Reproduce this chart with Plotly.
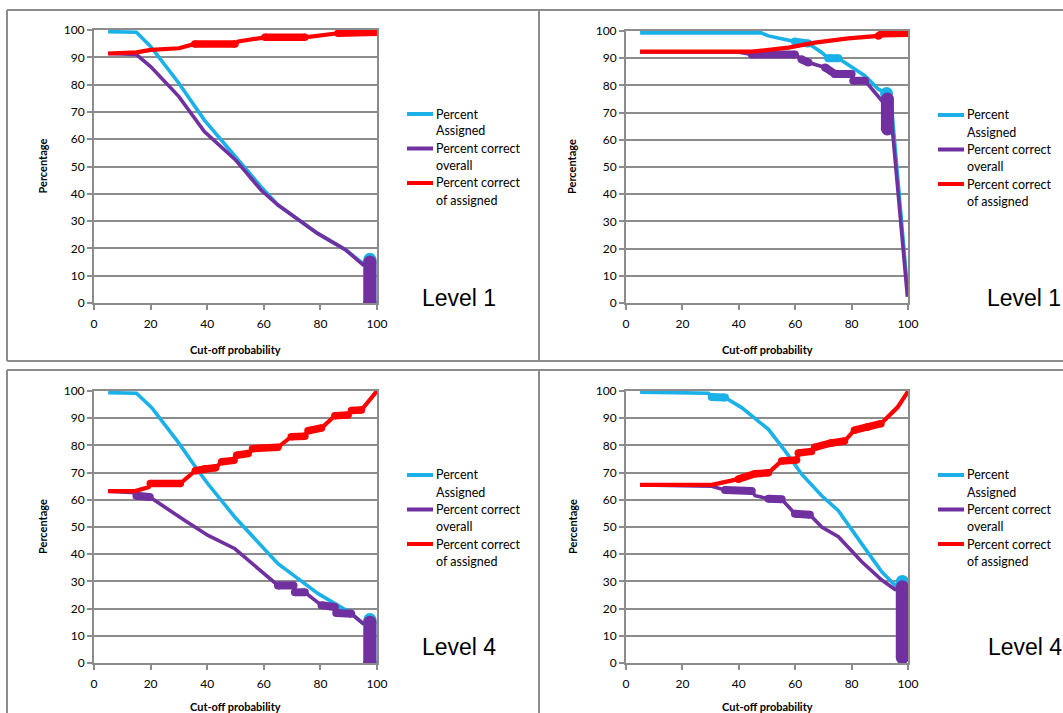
import plotly.graph_objects as go

W, H = 1063, 713          # figure size in pixels

# ---------------------------------------------------------------- data
X_TICKS = [0, 20, 40, 60, 80, 100]
Y_TICKS = list(range(0, 101, 10))
SERIES_NAMES = ["Percent<br>Assigned", "Percent correct<br>overall", "Percent correct<br>of assigned"]
LEVEL_LABELS = ["Level 1", "Level 1", "Level 4", "Level 4"]

# Panel 1 (Level 1, left)
P1_ASSIGNED_X = [5, 15, 20, 30, 39, 50, 59, 65, 79, 89, 95, 97.5, 97.5]
P1_ASSIGNED_Y = [99.4, 99.2, 94, 80.5, 67, 53.6, 42.6, 35.9, 25.5, 19.4, 14.5, 16, 0]
P1_OVERALL_X = [5, 15, 20, 30, 39, 50, 59, 65, 79, 89, 95, 97.5, 97.5]
P1_OVERALL_Y = [91.4, 91, 86.6, 75.6, 62.8, 52.4, 41.4, 35.9, 25.5, 19.4, 14, 15, 0]
P1_OFASSIGNED_X = [5, 15, 20, 30, 35.6, 49.8, 51, 60.4, 74.5, 79.2, 86.2, 100]
P1_OFASSIGNED_Y = [91.4, 91.8, 92.7, 93.3, 94.9, 94.9, 95.8, 97.3, 97.3, 97.8, 98.8, 99.2]

# Panel 2 (Level 1, right)
P2_ASSIGNED_X = [5, 48, 50.5, 59.9, 64.7, 69.4, 71.7, 75.3, 84.8, 89.5, 92.4, 94.2, 100]
P2_ASSIGNED_Y = [99.3, 99.3, 98.2, 96.1, 95.4, 92.1, 90, 90, 83.5, 78.6, 77, 71.9, 2.5]
P2_OVERALL_X = [5, 40, 44.6, 59.9, 62.2, 64.7, 70.6, 74.1, 80, 80.6, 84.8, 90.7, 92.7, 92.7, 94.2, 99.8]
P2_OVERALL_Y = [92.3, 92.2, 91.4, 91.4, 89.6, 88.4, 86.6, 84.2, 84.2, 81.7, 81.7, 74.4, 75, 64, 67, 2.3]
P2_OFASSIGNED_X = [5, 44.6, 57.6, 67, 78.8, 89.5, 90.7, 100]
P2_OFASSIGNED_Y = [92.4, 92.4, 93.9, 95.7, 97.3, 98.2, 99, 99.2]

# Panel 3 (Level 4, left)
P3_ASSIGNED_X = [5, 15, 20.4, 29.8, 36.8, 40.3, 49.8, 60.4, 65, 72.1, 79.2, 86.2, 90.9, 95, 97.5, 97.5]
P3_ASSIGNED_Y = [99.4, 99.2, 93.9, 81.1, 70.7, 65.8, 53.6, 41.4, 36.5, 31, 25.5, 21.2, 18.3, 14.6, 16, 0]
P3_OVERALL_X = [5, 14.5, 15, 19.7, 32.1, 40.3, 49.8, 65, 70.5, 71, 74.5, 80.4, 85.1, 85.6, 90.9, 95, 97.5, 97.5]
P3_OVERALL_Y = [63.2, 62.6, 61.5, 61, 52.4, 46.9, 42, 28.5, 28.5, 26, 26, 21.2, 20.6, 18.4, 18.1, 14.6, 15, 0]
P3_OFASSIGNED_X = [5, 14.5, 19.3, 19.9, 30.5, 35.8, 39.2, 43, 45.1, 49.5, 50.4, 54.5, 56, 65, 69.7, 74.5,
                   75.6, 80.4, 85.1, 89.8, 91, 94.5, 100]
P3_OFASSIGNED_Y = [63.2, 63.2, 64.6, 66, 66, 70.7, 71.3, 71.8, 74, 74.5, 76.4, 77, 78.8, 79.3, 83.2, 83.4,
                   85.4, 86.4, 90.9, 91.2, 92.8, 93, 100]

# Panel 4 (Level 4, right)
P4_ASSIGNED_X = [5, 29.2, 30.4, 35.1, 41, 50.5, 56.4, 62.3, 69.4, 75.3, 83.6, 90.7, 95.4, 98, 98]
P4_ASSIGNED_Y = [99.6, 99.2, 97.8, 97.6, 93.9, 85.9, 78, 69.4, 61.5, 56, 43.8, 33.5, 28.6, 30, 2]
P4_OVERALL_X = [5, 30.4, 35.1, 44.6, 45.8, 50.5, 55.2, 59.9, 65.2, 69.4, 75.3, 83.6, 90.7, 95.4, 98, 98]
P4_OVERALL_Y = [65.5, 65, 63.6, 63.2, 61.5, 60.4, 60.2, 54.9, 54.5, 50, 46.4, 37.2, 30.5, 27, 28, 2]
P4_OFASSIGNED_X = [5, 30.4, 39.8, 45.8, 50.5, 55.2, 60.5, 61.1, 65.8, 66.9, 72.8, 77.5, 81, 85.7, 90.4,
                   96.3, 100]
P4_OFASSIGNED_Y = [65.5, 65.5, 67.6, 69.6, 69.9, 74.3, 74.6, 77.2, 77.8, 79.3, 80.9, 81.6, 85.6, 86.8, 88,
                   94, 99.8]

# cut-off ranges where many tied points pile up and the curve is drawn heavier
P1_DENSE = [[(97.5, 97.5)], [(97.5, 97.5)], [(35.6, 49.8), (60.4, 74.5), (86.2, 100)]]
P2_DENSE = [[(59.9, 64.7), (71.7, 75.3), (92.4, 92.4)],
            [(44.6, 59.9), (62.2, 64.7), (70.6, 74.1), (74.1, 80), (80.6, 84.8), (92.7, 92.7)],
            [(89.5, 100)]]
P3_DENSE = [[(97.5, 97.5)],
            [(15, 19.7), (65, 70.5), (71, 74.5), (80.4, 85.1), (85.6, 90.9), (97.5, 97.5)],
            [(19.9, 30.5), (35.8, 39.2), (39.2, 43), (45.1, 49.5), (50.4, 54.5), (56, 65), (69.7, 74.5),
             (75.6, 80.4), (85.1, 89.8), (91, 94.5)]]
P4_DENSE = [[(30.4, 35.1), (98, 98)],
            [(35.1, 44.6), (50.5, 55.2), (59.9, 65.2), (98, 98)],
            [(39.8, 50.5), (55.2, 60.5), (61.1, 65.8), (66.9, 72.8), (72.8, 77.5), (81, 85.7), (85.7, 90.4)]]

PANELS = [
    ([(P1_ASSIGNED_X, P1_ASSIGNED_Y), (P1_OVERALL_X, P1_OVERALL_Y), (P1_OFASSIGNED_X, P1_OFASSIGNED_Y)], P1_DENSE),
    ([(P2_ASSIGNED_X, P2_ASSIGNED_Y), (P2_OVERALL_X, P2_OVERALL_Y), (P2_OFASSIGNED_X, P2_OFASSIGNED_Y)], P2_DENSE),
    ([(P3_ASSIGNED_X, P3_ASSIGNED_Y), (P3_OVERALL_X, P3_OVERALL_Y), (P3_OFASSIGNED_X, P3_OFASSIGNED_Y)], P3_DENSE),
    ([(P4_ASSIGNED_X, P4_ASSIGNED_Y), (P4_OVERALL_X, P4_OVERALL_Y), (P4_OFASSIGNED_X, P4_OFASSIGNED_Y)], P4_DENSE),
]

# ---------------------------------------------------------------- styling
COLORS = ["#1AB0E8", "#7030A0", "#FF0000"]
WIDTHS = [3.6, 3.6, 4.2]
DENSE_WIDTHS = [8, 8, 7.5]
BLOB_WIDTH = 13
GRID = "#8C8C8C"
TXT_FONT = "Lato, 'Open Sans', sans-serif"

# plot-area boxes in pixels: (left, right, top, bottom)
BOXES = [(94, 377, 30, 303), (626, 908, 31, 303), (94, 377, 391, 663), (626, 908, 391, 663)]
LEVEL_POS = [(420, 298), (985, 298), (420, 647), (986, 647)]
YTITLE_X = [42, 572, 42, 572]
XTITLE_Y = [349, 349, 706, 706]


def fx(p):
    """x pixel -> paper fraction"""
    return p / W


def fy(p):
    """y pixel (from top) -> paper fraction"""
    return 1 - p / H


fig = go.Figure()
annotations = []
shapes = []

for i, ((series, dense), box) in enumerate(zip(PANELS, BOXES), start=1):
    xa, ya = ("x", "y") if i == 1 else (f"x{i}", f"y{i}")
    for k, (xs, ys) in enumerate(series):
        fig.add_trace(go.Scatter(
            x=xs, y=ys, mode="lines", xaxis=xa, yaxis=ya, name=SERIES_NAMES[k].replace("<br>", " "),
            showlegend=False, line=dict(color=COLORS[k], width=WIDTHS[k]), hoverinfo="skip"))
        for (a, b) in dense[k]:
            pts = [(x, y) for x, y in zip(xs, ys) if a <= x <= b]
            if not pts:
                continue
            vertical = a == b
            w = BLOB_WIDTH if vertical else DENSE_WIDTHS[k]
            fig.add_trace(go.Scatter(
                x=[p[0] for p in pts], y=[p[1] for p in pts], mode="lines+markers",
                xaxis=xa, yaxis=ya, showlegend=False, hoverinfo="skip",
                line=dict(color=COLORS[k], width=w),
                marker=dict(color=COLORS[k], size=w, line=dict(width=0))))

    x0, x1, y0, y1 = box
    common = dict(range=[0, 100], showline=True, linecolor=GRID, linewidth=2, mirror=True,
                  ticks="outside", ticklen=5, tickcolor=GRID, tickwidth=2, zeroline=False,
                  automargin=False,
                  tickfont=dict(family=TXT_FONT, size=12, color="#000"), fixedrange=True)
    fig.update_layout(**{
        ("xaxis" if i == 1 else f"xaxis{i}"): dict(
            domain=[fx(x0), fx(x1)], anchor=ya, tickvals=X_TICKS, showgrid=False,
            ticklabelstandoff=4, **common),
        ("yaxis" if i == 1 else f"yaxis{i}"): dict(
            domain=[fy(y1), fy(y0)], anchor=xa, tickvals=Y_TICKS, showgrid=True,
            gridcolor=GRID, gridwidth=2, **common),
    })

    # axis titles
    annotations.append(dict(
        text="<b>Percentage</b>", x=fx(YTITLE_X[i - 1]), y=fy((y0 + y1) / 2), xref="paper", yref="paper",
        textangle=-90, showarrow=False, font=dict(family=TXT_FONT, size=11, color="#000"),
        xanchor="center", yanchor="middle"))
    annotations.append(dict(
        text="<b>Cut-off probability</b>", x=fx((x0 + x1) / 2), y=fy(XTITLE_Y[i - 1]), xref="paper",
        yref="paper", showarrow=False, font=dict(family=TXT_FONT, size=11, color="#000"),
        xanchor="center", yanchor="middle"))

    # legend
    for k, name in enumerate(SERIES_NAMES):
        ly = y0 + 84 + 34.5 * k
        shapes.append(dict(type="line", xref="paper", yref="paper",
                           x0=fx(x1 + 30), x1=fx(x1 + 56), y0=fy(ly), y1=fy(ly),
                           line=dict(color=COLORS[k], width=4)))
        for j, part in enumerate(name.split("<br>")):
            annotations.append(dict(
                text=part, x=fx(x1 + 57), y=fy(ly + 17 * j), xref="paper", yref="paper",
                showarrow=False, xanchor="left", yanchor="middle",
                font=dict(family=TXT_FONT, size=12.5, color="#000")))

    lx, ly = LEVEL_POS[i - 1]
    annotations.append(dict(
        text=LEVEL_LABELS[i - 1], x=fx(lx), y=fy(ly), xref="paper", yref="paper", showarrow=False,
        xanchor="left", yanchor="middle", font=dict(family="Liberation Sans, Arial", size=23, color="#000")))

# table frame around the four charts
FRAME = "#8C8C8C"
for (ax0, ay0, ax1, ay1) in [
    (7, 10, W, 10), (7, 361, W, 361), (7, 370, W, 370),
    (7, 10, 7, 361), (7, 370, 7, H), (539, 10, 539, 361), (539, 370, 539, H),
]:
    shapes.append(dict(type="line", xref="paper", yref="paper", x0=fx(ax0), x1=fx(ax1),
                       y0=fy(ay0), y1=fy(ay1), line=dict(color=FRAME, width=2)))

fig.update_layout(
    width=W, height=H, margin=dict(l=0, r=0, t=0, b=0, pad=0, autoexpand=False),
    autosize=False,
    paper_bgcolor="white", plot_bgcolor="white",
    showlegend=False, annotations=annotations, shapes=shapes,
)

fig.write_html("out.html", config={"displayModeBar": False, "responsive": False})
